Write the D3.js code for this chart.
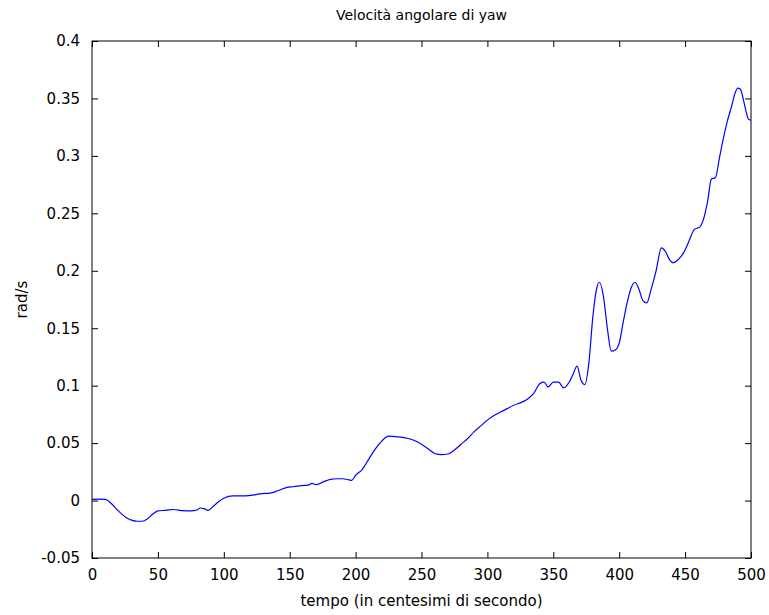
<!DOCTYPE html>
<html lang="it">
<head>
    <meta charset="UTF-8">
    <title>Velocità angolare di yaw</title>
    <script src="https://d3js.org/d3.v7.min.js" charset="utf-8"></script>
    <style>
        body { margin: 0; background: #fff; }
        text { font-family: "DejaVu Sans", sans-serif; fill: #000; }
    </style>
</head>
<body>
<script type="text/javascript">

var w = 769;
var h = 615;
var margin = {top: 41, right: 18, bottom: 57, left: 92};

// tempo (centesimi di secondo) e velocita' angolare (rad/s)
var tempo = [0, 5, 10, 15, 20, 25, 30, 34, 38, 42, 46, 50, 56, 62, 69, 75, 80, 82, 85, 88,
    92, 96, 100, 107, 115, 120, 129, 135, 141, 148, 153, 159, 164, 167, 170, 175, 181, 186, 190, 195,
    197, 200, 205, 210, 215, 220, 225, 232, 240, 245, 250, 255, 260, 265, 270, 275, 280, 285, 290, 295,
    300, 305, 310, 315, 320, 325, 330, 335, 340, 343, 346, 350, 354, 358, 362, 365, 368, 371, 374, 377,
    380, 383, 385, 388, 391, 394, 397, 400, 403, 406, 409, 412, 415, 418, 421, 424, 428, 432, 435, 438,
    441, 445, 449, 453, 457, 461, 464, 467, 470, 473, 476, 479, 482, 485, 488, 490, 492, 494, 496, 498, 500];

var velocita = [0.001, 0.0012, 0.001, -0.003, -0.009, -0.014, -0.017, -0.018, -0.018, -0.016, -0.012, -0.009, -0.0085, -0.0078, -0.0088, -0.009, -0.008, -0.0065, -0.007, -0.0085,
    -0.005, -0.001, 0.002, 0.004, 0.004, 0.0045, 0.006, 0.0065, 0.0085, 0.0115, 0.012, 0.013, 0.0135, 0.015, 0.0138, 0.016, 0.0185, 0.019, 0.019, 0.018,
    0.0175, 0.022, 0.027, 0.036, 0.045, 0.052, 0.056, 0.0555, 0.054, 0.052, 0.049, 0.045, 0.041, 0.04, 0.0405, 0.044, 0.049, 0.054, 0.06, 0.065,
    0.07, 0.074, 0.077, 0.08, 0.083, 0.085, 0.088, 0.093, 0.102, 0.103, 0.099, 0.103, 0.103, 0.098, 0.103, 0.11, 0.117, 0.105, 0.101, 0.12,
    0.16, 0.185, 0.19, 0.178, 0.15, 0.13, 0.131, 0.137, 0.155, 0.172, 0.185, 0.19, 0.184, 0.174, 0.172, 0.183, 0.2, 0.22, 0.217, 0.21,
    0.207, 0.21, 0.216, 0.226, 0.236, 0.238, 0.245, 0.26, 0.28, 0.281, 0.298, 0.315, 0.33, 0.342, 0.355, 0.359, 0.358, 0.35, 0.34, 0.332, 0.331];

var xTicks = [0, 50, 100, 150, 200, 250, 300, 350, 400, 450, 500];
var yTicks = [-0.05, 0, 0.05, 0.1, 0.15, 0.2, 0.25, 0.3, 0.35, 0.4];
var yTickLabels = ["-0.05", "0", "0.05", "0.1", "0.15", "0.2", "0.25", "0.3", "0.35", "0.4"];

var svg = d3.select("body")
    .append("svg")
    .attr("width", w)
    .attr("height", h);

var x = d3.scaleLinear().domain([0, 500]).range([margin.left, w - margin.right]);
var y = d3.scaleLinear().domain([-0.05, 0.4]).range([h - margin.bottom, margin.top]);

var tick = 6;

// assi in basso e in alto
svg.append("g")
    .attr("transform", "translate(0," + (h - margin.bottom) + ")")
    .call(d3.axisBottom(x).tickValues(xTicks).tickSize(-tick).tickPadding(tick + 5).tickFormat(d3.format("d")))
    .call(function (g) { g.select(".domain").remove(); });

svg.append("g")
    .attr("transform", "translate(0," + margin.top + ")")
    .call(d3.axisTop(x).tickValues(xTicks).tickSize(-tick).tickFormat(""))
    .call(function (g) { g.select(".domain").remove(); });

// assi a sinistra e a destra
svg.append("g")
    .attr("transform", "translate(" + margin.left + ",0)")
    .call(d3.axisLeft(y).tickValues(yTicks).tickSize(-tick).tickPadding(tick + 6)
        .tickFormat(function (d, i) { return yTickLabels[i]; }))
    .call(function (g) { g.select(".domain").remove(); });

svg.append("g")
    .attr("transform", "translate(" + (w - margin.right) + ",0)")
    .call(d3.axisRight(y).tickValues(yTicks).tickSize(-tick).tickFormat(""))
    .call(function (g) { g.select(".domain").remove(); });

svg.selectAll(".tick text")
    .style("font-family", "DejaVu Sans, sans-serif")
    .style("font-size", "15px")
    .attr("fill", "#000");
svg.selectAll(".tick line").attr("stroke", "#000");

// cornice
svg.append("rect")
    .attr("x", margin.left)
    .attr("y", margin.top)
    .attr("width", w - margin.left - margin.right)
    .attr("height", h - margin.top - margin.bottom)
    .attr("fill", "none")
    .attr("stroke", "#000")
    .attr("stroke-width", 1);

var line = d3.line()
    .x(function (d, i) { return x(tempo[i]); })
    .y(function (d) { return y(d); })
    .curve(d3.curveMonotoneX);

svg.append("path")
    .datum(velocita)
    .attr("d", line)
    .attr("fill", "none")
    .attr("stroke", "#0000ff")
    .attr("stroke-width", 1.2);

svg.append("text")
    .text("Velocità angolare di yaw")
    .attr("x", (margin.left + w - margin.right) / 2)
    .attr("y", 20)
    .attr("text-anchor", "middle")
    .attr("font-size", "14px");

svg.append("text")
    .text("tempo (in centesimi di secondo)")
    .attr("x", (margin.left + w - margin.right) / 2)
    .attr("y", 606)
    .attr("text-anchor", "middle")
    .attr("font-size", "15px");

svg.append("text")
    .text("rad/s")
    .attr("transform", "translate(27," + ((margin.top + h - margin.bottom) / 2) + ") rotate(-90)")
    .attr("text-anchor", "middle")
    .attr("font-size", "15px");

</script>
</body>
</html>
